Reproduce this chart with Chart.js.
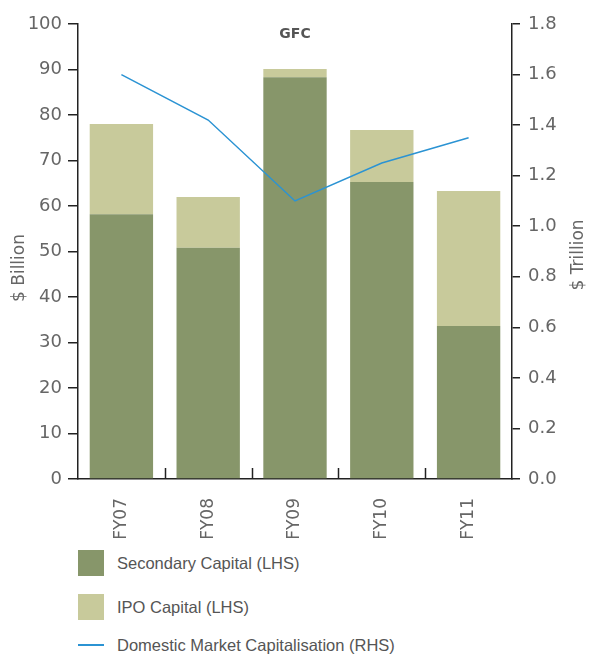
<!DOCTYPE html>
<html>
<head>
<meta charset="utf-8">
<script src="https://cdn.jsdelivr.net/npm/chart.js@4.4.1/dist/chart.umd.min.js"></script>
<style>
  body { margin: 0; background: #fff; font-family: "DejaVu Sans", sans-serif; }
  #wrap { position: relative; width: 590px; height: 654px; }
  #legend { position: absolute; left: 78px; top: 550px; }
  .item { display: flex; align-items: center; height: 26px; margin-bottom: 18px; color: #555; font-size: 16.5px; font-family: "Liberation Sans", sans-serif; }
  .item:nth-child(2) { margin-bottom: 12px; }
  .sw { width: 26px; height: 26px; margin-right: 13px; }
  .ln { width: 26px; height: 2px; margin-right: 13px; }
</style>
</head>
<body>
<div id="wrap">
  <canvas id="c" width="590" height="540"></canvas>
  <div id="legend"></div>
</div>
<script>
const years = ["FY07", "FY08", "FY09", "FY10", "FY11"];
const secondaryCapital = [58.2, 50.8, 88.3, 65.3, 33.6];
const ipoCapital = [19.8, 11.2, 1.8, 11.4, 29.7];
const marketCap = [1.60, 1.42, 1.10, 1.25, 1.35];

const seriesNames = ["Secondary Capital (LHS)", "IPO Capital (LHS)", "Domestic Market Capitalisation (RHS)"];
const colours = ["#87966a", "#c8ca9b", "#2b93d3"];

const tickFont = { family: "DejaVu Sans", size: 18 };
const xFont = { family: "DejaVu Sans", size: 17 };
const grey = "#666";

// axis titles, GFC note and the small inner ticks on the x axis
const extras = {
  id: "extras",
  afterDraw(chart) {
    const ctx = chart.ctx;
    const x = chart.scales.x;
    const a = chart.chartArea;
    ctx.save();
    ctx.strokeStyle = "#222";
    ctx.lineWidth = 1.5;
    for (let i = 1; i < years.length; i++) {
      const px = Math.round((x.getPixelForValue(i - 1) + x.getPixelForValue(i)) / 2) + 0.5;
      ctx.beginPath();
      ctx.moveTo(px, a.bottom);
      ctx.lineTo(px, a.bottom - 11);
      ctx.stroke();
    }
    ctx.fillStyle = grey;
    ctx.font = "17px 'DejaVu Sans'";
    ctx.textAlign = "center";
    ctx.textBaseline = "middle";
    ctx.translate(20, 268);
    ctx.rotate(-Math.PI / 2);
    ctx.fillText("$ Billion", 0, 0);
    ctx.setTransform(1, 0, 0, 1, 0, 0);
    ctx.translate(579, 255);
    ctx.rotate(-Math.PI / 2);
    ctx.fillText("$ Trillion", 0, 0);
    ctx.setTransform(1, 0, 0, 1, 0, 0);
    ctx.font = "bold 14px 'DejaVu Sans'";
    ctx.fillStyle = "#555";
    ctx.fillText("GFC", x.getPixelForValue(2), 34);
    ctx.restore();
  }
};

new Chart(document.getElementById("c"), {
  data: {
    labels: years,
    datasets: [
      { type: "line", label: seriesNames[2], data: marketCap, yAxisID: "y1",
        borderColor: colours[2], borderWidth: 1.5, pointRadius: 0, tension: 0, order: 0 },
      { type: "bar", label: seriesNames[0], data: secondaryCapital, yAxisID: "y",
        backgroundColor: colours[0], stack: "cap", order: 1,
        categoryPercentage: 1, barPercentage: 0.73 },
      { type: "bar", label: seriesNames[1], data: ipoCapital, yAxisID: "y",
        backgroundColor: colours[1], stack: "cap", order: 1,
        categoryPercentage: 1, barPercentage: 0.73 }
    ]
  },
  options: {
    responsive: false,
    animation: false,
    layout: { padding: { top: 24 } },
    plugins: { legend: { display: false }, tooltip: { enabled: false } },
    scales: {
      x: {
        stacked: true,
        grid: { display: false },
        border: { display: true, color: "#222", width: 1.5 },
        ticks: { color: grey, font: xFont, minRotation: 90, maxRotation: 90, padding: 11 },
        afterFit(s) { s.height = 61; }
      },
      y: {
        stacked: true,
        position: "left",
        min: 0, max: 100,
        grid: { drawOnChartArea: false, tickLength: 10, color: "#222", lineWidth: 1.5 },
        border: { color: "#222", width: 1.5 },
        ticks: { stepSize: 10, color: grey, font: tickFont, padding: 6 },
        afterFit(s) { s.width = 78; }
      },
      y1: {
        position: "right",
        min: 0, max: 1.8,
        grid: { drawOnChartArea: false, tickLength: 8, color: "#222", lineWidth: 1.5 },
        border: { color: "#222", width: 1.5 },
        ticks: { stepSize: 0.2, color: grey, font: tickFont, padding: 8,
          callback: v => v.toFixed(1) },
        afterFit(s) { s.width = 78; }
      }
    }
  },
  plugins: [extras]
});

const legend = document.getElementById("legend");
seriesNames.forEach((name, i) => {
  const row = document.createElement("div");
  row.className = "item";
  const mark = document.createElement("span");
  mark.className = i < 2 ? "sw" : "ln";
  mark.style.background = colours[i];
  row.appendChild(mark);
  row.appendChild(document.createTextNode(name));
  legend.appendChild(row);
});
</script>
</body>
</html>
